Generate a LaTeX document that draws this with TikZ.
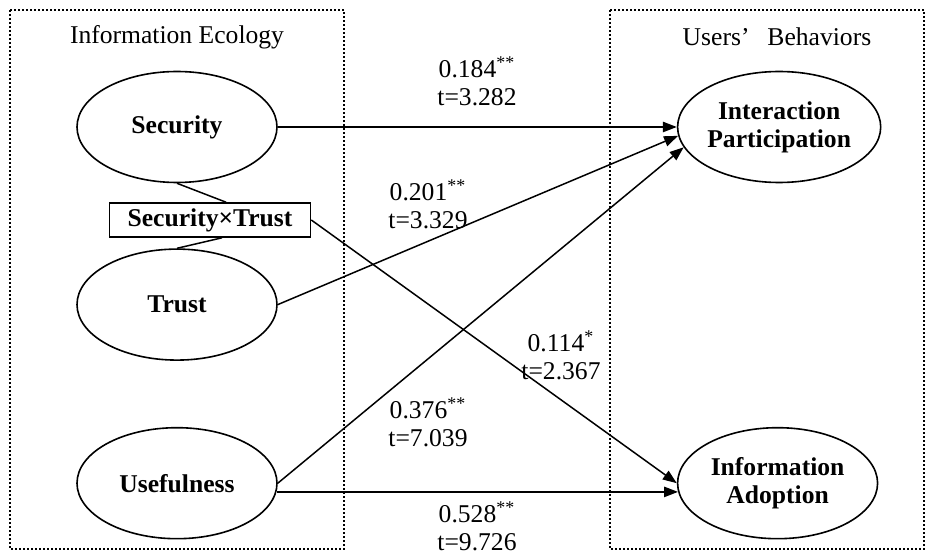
\documentclass[tikz,border=0pt]{standalone}
\usepackage{fontspec}
\setmainfont{Liberation Serif}
\usetikzlibrary{positioning,shapes.geometric,arrows.meta}

\tikzset{
	construct/.style={ellipse, draw, line width=0.8pt, minimum width=100pt,
		minimum height=55.5pt, inner sep=0pt, align=center,
		font=\bfseries\fontsize{12.8}{14}\selectfont},
	product/.style={rectangle, draw, line width=0.8pt, minimum width=100.5pt,
		minimum height=17pt, inner sep=0pt, font=\bfseries\fontsize{12.8}{14}\selectfont},
	weight/.style={align=center, inner sep=0pt, font=\fontsize{12.8}{14}\selectfont},
	heading/.style={inner sep=0pt, font=\fontsize{12.8}{14}\selectfont},
	group/.style={line width=0.8pt, dash pattern=on 1pt off 1pt},
	path/.style={line width=0.75pt, -{Triangle[length=7pt,width=5.2pt]}},
}

\begin{document}
\begin{tikzpicture}[x=0.5pt, y=-0.5pt]
	\useasboundingbox (0,0) rectangle (934,556);
	% the two groups
	\draw [group] (10,10) rectangle (344,549);
	\draw [group] (610,10) rectangle (924,549);
	\node [heading] (eco) at (177,37) {Information Ecology};
	\node [heading] (beh) at (777,37) {Users’\hspace{0.7em}Behaviors};
	% constructs
	\node [construct] (Sec) at (177,127) {Security};
	\node [construct, below=32.5pt of Sec] (Trust) {Trust};
	\node [construct, below=33pt of Trust] (Use) {Usefulness};
	\node [construct, right=199.5pt of Sec] (IP) {Interaction\\Participation};
	\node [construct, right=199.5pt of Use] (IA) {Information\\Adoption};
	\node [product] (SxT) at (210,220) {Security×Trust};
	\draw [line width=0.75pt] (Sec.south) -- ([xshift=8pt]SxT.north);
	\draw [line width=0.75pt] ([xshift=6pt]SxT.south) -- (Trust.north);
	% paths
	\draw [path] (Sec) -- (IP);
	\draw [path] (Trust.east) -- (IP.185);
	\draw [path] (Use.east) -- (IP.192);
	\draw [path] (SxT.east) -- (IA.west);
	\draw [path] (Use.-5) -- (IA.185);
	% weights
	\node [weight] (wSecIP) at (477,81) {0.184\textsuperscript{**}\\t=3.282};
	\node [weight] (wTrustIP) at (428,204) {0.201\textsuperscript{**}\\t=3.329};
	\node [weight] (wSxTIA) at (561,355) {0.114\textsuperscript{*}\\t=2.367};
	\node [weight] (wUseIP) at (428,422) {0.376\textsuperscript{**}\\t=7.039};
	\node [weight] (wUseIA) at (477,526) {0.528\textsuperscript{**}\\t=9.726};
\end{tikzpicture}
\end{document}
